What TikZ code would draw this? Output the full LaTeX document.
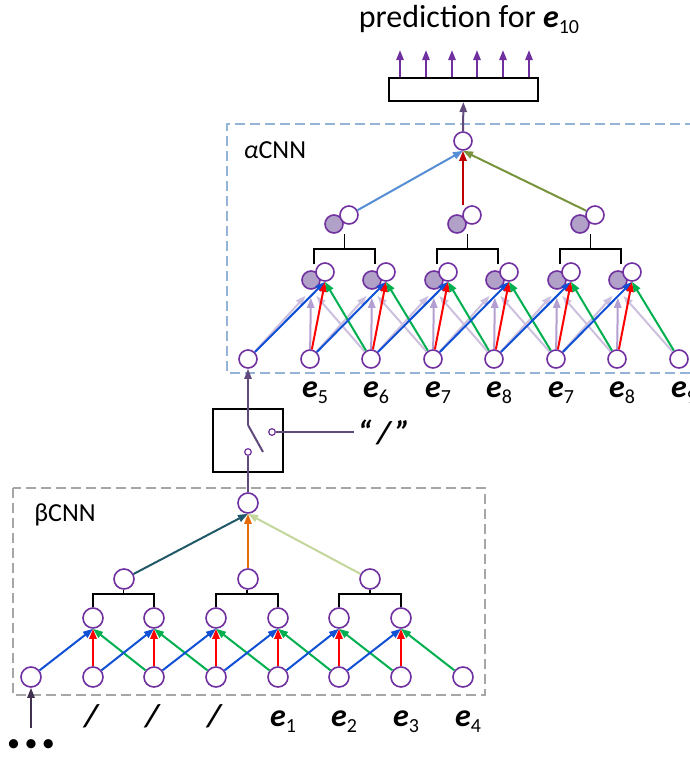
\documentclass[tikz,border=0pt]{standalone}
\usepackage{fontspec}
\setmainfont{Carlito}
\usepackage{tikz}
\usetikzlibrary{
  arrows.meta,
  calc
}
\definecolor{npurple}{RGB}{112,48,160}
\definecolor{nfill}{RGB}{177,160,199}
\definecolor{lpurple}{RGB}{204,192,222}
\definecolor{mpurple}{RGB}{178,158,208}
\definecolor{dpurple}{RGB}{96,74,123}
\definecolor{ddpurple}{RGB}{64,49,81}
\definecolor{eblue}{RGB}{16,80,212}
\definecolor{ered}{RGB}{255,0,0}
\definecolor{egreen}{RGB}{0,176,80}
\definecolor{ablue}{RGB}{85,142,213}
\definecolor{ared}{RGB}{192,0,0}
\definecolor{agreen}{RGB}{119,147,60}
\definecolor{bteal}{RGB}{33,89,104}
\definecolor{borange}{RGB}{228,108,10}
\definecolor{bgreen}{RGB}{195,214,155}
\definecolor{boxblue}{RGB}{149,179,215}
\definecolor{boxgray}{RGB}{166,166,166}
\newcommand{\ee}[1]{\textbf{\textit{e}}\raisebox{-3pt}{\fontsize{10}{10}\selectfont #1}}
\tikzset{
  unit/.style={
    circle,
    draw=npurple,
    fill=white,
    line width=0.8pt,
    minimum size=10pt,
    inner sep=0pt},
  aunit/.style={unit,minimum size=9pt},
  hunit/.style={aunit,fill=nfill},
  conn/.style={-{Triangle[length=5pt,width=3.6pt]},line width=1pt},
  ghost/.style={conn,lpurple,shorten >=4pt},
  brack/.style={line width=0.8pt},
  lbl/.style={font=\fontsize{16}{16}\selectfont,inner sep=0pt},
  cnnbox/.style={line width=1pt,dash pattern=on 5pt off 2.5pt}
  }

\begin{document}
\begin{tikzpicture}[x=0.5pt,y=-0.5pt]
  \useasboundingbox (0,0) rectangle (690,757);
  % frames
  \draw[cnnbox,boxgray] (13,488) rectangle (485,695);
  \draw[cnnbox,boxblue] (695,124) -- (227,124) -- (227,373) -- (695,373);
  \node[font=\fontsize{13}{13}\selectfont] (blab) at (65,515) {βCNN};
  \node[font=\fontsize{13}{13}\selectfont] (alab) at (275,150) {\textit{α}CNN};

  % beta CNN
  \foreach \i/\x in {0/31,1/93,2/154,3/216,4/278,5/339,6/401,7/463}
    \node[unit] (b\i) at (\x,677) {};
  \foreach \i/\x in {1/93,2/154,3/216,4/278,5/339,6/401}
    \node[unit] (h\i) at (\x,618) {};
  \foreach \k/\x in {1/124,2/248,3/370}
    \node[unit] (g\k) at (\x,579) {};
  \node[unit] (btop) at (248,503) {};
  \foreach \i in {1,...,6} {
    \pgfmathtruncatemacro{\lft}{\i-1}
    \pgfmathtruncatemacro{\rgt}{\i+1}
    \draw[conn,eblue] (b\lft) -- (h\i.south);
    \draw[conn,ered] (b\i) -- (h\i.south);
    \draw[conn,egreen] (b\rgt) -- (h\i.south);
  }
  \foreach \k/\m/\n in {1/1/2,2/3/4,3/5/6} {
    \draw[brack] (h\m.north) -- ++(0,-13) -| coordinate[pos=0.25] (j\k) (h\n.north);
    \draw[brack] (j\k) -- (j\k |- g\k.south);
  }
  \draw[conn,bteal] (g1) -- (btop.south);
  \draw[conn,borange] (g2) -- (btop.south);
  \draw[conn,bgreen] (g3) -- (btop.south);
  \foreach \i in {1,2,3}
    \node[lbl,anchor=base] (bs\i) at ($(b\i)+(-1,49)$) {\textbf{\textit{/}}};
  \foreach \i/\t in {4/1,5/2,6/3,7/4}
    \node[lbl,anchor=base] (be\i) at ($(b\i)+(5,49)$) {\ee{\t}};
  \node[font=\fontsize{13}{13}\selectfont,inner sep=0pt] (dots) at (31,746) {•\,•\,•};
  \draw[conn,ddpurple,shorten <=6pt] (dots) -- (b0);

  % switch
  \node[draw,line width=0.9pt,minimum width=35pt,minimum height=31.5pt] (sw) at (248,440.5) {};
  \node[circle,draw=npurple,fill=white,line width=0.6pt,minimum size=3.3pt,inner sep=0pt] (si) at (248,452) {};
  \node[circle,draw=npurple,fill=white,line width=0.6pt,minimum size=3.3pt,inner sep=0pt] (so) at (272,432) {};
  \coordinate (pv) at (248,425);
  \coordinate (lv) at (263,452);
  \node[lbl,inner sep=1.5pt] (quote) at (384,432) {\textbf{\textit{“\,/\,”}}};
  \draw[dpurple,line width=1pt] (btop) -- (si);
  \draw[dpurple,line width=1pt] (pv) -- (lv);
  \draw[dpurple,line width=1pt] (so) -- (quote);

  % alpha CNN
  \foreach \i/\x in {0/248,1/310,2/371,3/433,4/494,5/556,6/617,7/679}
    \node[aunit] (a\i) at (\x,359) {};
  \foreach \i in {1,...,6} {
    \node[hunit] (f\i) at ($(a\i)+(1,-79)$) {};
    \node[aunit] (w\i) at ($(a\i)+(15,-87)$) {};
  }
  \draw[conn,dpurple] (pv) -- (a0);
  \foreach \i in {1,...,6} {
    \pgfmathtruncatemacro{\lft}{\i-1}
    \pgfmathtruncatemacro{\rgt}{\i+1}
    \draw[ghost] (a\lft) -- (f\i.south);
    \draw[ghost,mpurple] (a\i) -- (f\i.south);
    \draw[ghost] (a\rgt) -- (f\i.south);
  }
  \foreach \i in {1,...,6} {
    \pgfmathtruncatemacro{\lft}{\i-1}
    \pgfmathtruncatemacro{\rgt}{\i+1}
    \draw[conn,eblue] (a\lft) -- (w\i.south);
    \draw[conn,ered] (a\i) -- (w\i.south);
    \draw[conn,egreen] (a\rgt) -- (w\i.south);
  }
  \foreach \k/\x in {1/345,2/468,3/591} {
    \node[hunit] (q\k) at (\x-11,224) {};
    \node[aunit] (p\k) at (\x+4,215) {};
  }
  \foreach \k/\m/\n in {1/1/2,2/3/4,3/5/6} {
    \draw[brack] ($(f\m)+(3,-16)$) -- ++(0,-15) -| coordinate[pos=0.25] (k\k) ($(f\n)+(3,-16)$);
    \draw[brack] (k\k) -- (k\k |- q\k.south);
  }
  \foreach \i/\t in {1/5,2/6,3/7,4/8,5/7,6/8,7/9}
    \node[lbl,anchor=base] (ae\i) at ($(a\i)+(5,38)$) {\ee{\t}};
  \node[aunit] (atop) at (463,141) {};
  \coordinate (c2) at (atop |- p2.north);
  \draw[conn,ablue] (p1) -- (atop.south);
  \draw[conn,ared] (c2) -- (atop.south);
  \draw[conn,agreen] (p3) -- (atop.south);

  % output
  \node[draw,line width=1pt,minimum width=74.5pt,minimum height=11.5pt,inner sep=0pt] (out) at (463.5,89.5) {};
  \draw[conn,dpurple] (atop) -- (out);
  \foreach \i/\x in {0/400,1/426,2/452,3/477,4/503,5/529} {
    \coordinate (o\i) at (\x,50);
    \draw[conn,npurple] (o\i |- out.north) -- (o\i);
  }
  \node[lbl,anchor=base] (pred) at (469,27) {prediction for \ee{10}};
\end{tikzpicture}
\end{document}
